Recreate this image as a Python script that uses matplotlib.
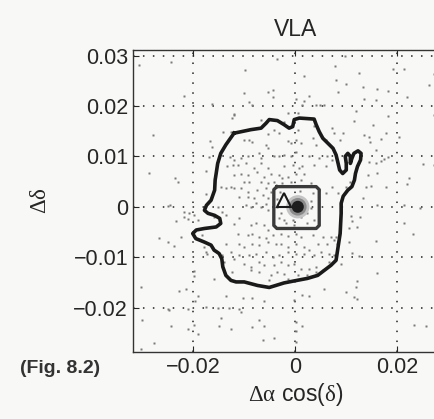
import numpy as np
import matplotlib
matplotlib.use('Agg')
import matplotlib.pyplot as plt

plt.rcParams['font.family'] = ['Liberation Sans', 'DejaVu Sans']
plt.rcParams['mathtext.fontset'] = 'custom'
plt.rcParams['mathtext.rm'] = 'Liberation Serif'
plt.rcParams['mathtext.it'] = 'Liberation Serif'

# scattered source positions (offsets in deg)
pts_upper_left = [(-0.0306, 0.0281), (-0.0244, 0.0288), (-0.0218, 0.0220), (-0.0164, 0.0204),
                  (-0.0120, 0.0184), (-0.0123, 0.0176), (-0.0278, 0.0143), (-0.0142, 0.0148),
                  (-0.0126, 0.0149), (-0.0167, 0.0131), (-0.0164, 0.0118), (-0.0169, 0.0098),
                  (-0.0127, 0.0098), (-0.0120, 0.0093), (-0.0134, 0.0081), (-0.0122, 0.0083),
                  (-0.0286, 0.0068), (-0.0236, 0.0058), (-0.0229, 0.0049), (-0.0175, 0.0071),
                  (-0.0146, 0.0040), (-0.0136, 0.0037), (-0.0126, 0.0039), (-0.0175, 0.0025),
                  (-0.0120, 0.0064)]
pts_upper_mid = [(-0.0036, 0.0294), (-0.0098, 0.0272), (0.0018, 0.0259), (-0.0100, 0.0226),
                 (-0.0054, 0.0227), (-0.0044, 0.0232), (-0.0044, 0.0217), (0.0001, 0.0214),
                 (0.0027, 0.0219), (-0.0090, 0.0207), (-0.0084, 0.0202), (0.0018, 0.0209),
                 (0.0014, 0.0202), (0.0041, 0.0202), (0.0049, 0.0202), (0.0057, 0.0202),
                 (-0.0015, 0.0186), (0.0005, 0.0187), (-0.0120, 0.0182), (-0.0067, 0.0173),
                 (-0.0022, 0.0169), (-0.0012, 0.0159), (-0.0041, 0.0153), (-0.0031, 0.0147),
                 (0.0005, 0.0153), (0.0037, 0.0160), (0.0073, 0.0156), (0.0076, 0.0146),
                 (-0.0100, 0.0133), (-0.0090, 0.0133), (-0.0084, 0.0129), (-0.0054, 0.0145),
                 (-0.0057, 0.0123), (-0.0054, 0.0116), (-0.0015, 0.0131), (-0.0008, 0.0127),
                 (0.0001, 0.0133), (0.0011, 0.0126), (0.0034, 0.0136), (0.0041, 0.0123),
                 (0.0060, 0.0133), (-0.0106, 0.0096), (-0.0093, 0.0100), (-0.0071, 0.0106),
                 (-0.0067, 0.0096), (-0.0041, 0.0100), (-0.0031, 0.0100), (-0.0022, 0.0103),
                 (-0.0008, 0.0100), (0.0001, 0.0109), (0.0027, 0.0100), (0.0047, 0.0096),
                 (0.0063, 0.0100), (-0.0113, 0.0083), (-0.0097, 0.0086), (-0.0067, 0.0086),
                 (-0.0080, 0.0076), (-0.0054, 0.0076), (-0.0022, 0.0080), (-0.0005, 0.0083),
                 (0.0008, 0.0076), (0.0014, 0.0080), (0.0018, 0.0066), (0.0037, 0.0083),
                 (0.0060, 0.0080), (0.0073, 0.0093), (-0.0106, 0.0066), (-0.0093, 0.0063),
                 (-0.0074, 0.0070), (-0.0061, 0.0060), (-0.0048, 0.0066), (-0.0031, 0.0063),
                 (-0.0025, 0.0057), (-0.0015, 0.0060), (0.0001, 0.0066), (-0.0100, 0.0050),
                 (-0.0090, 0.0050), (-0.0067, 0.0050), (-0.0054, 0.0048), (-0.0041, 0.0050),
                 (-0.0025, 0.0047), (-0.0008, 0.0050), (0.0011, 0.0053), (0.0031, 0.0047),
                 (-0.0120, 0.0037), (-0.0106, 0.0037), (-0.0093, 0.0030), (-0.0074, 0.0033),
                 (-0.0057, 0.0037), (-0.0048, 0.0030), (-0.0110, 0.0020), (-0.0093, 0.0020),
                 (-0.0080, 0.0017), (-0.0064, 0.0023), (-0.0054, 0.0017), (0.0047, 0.0033),
                 (0.0060, 0.0027), (0.0073, 0.0040)]
pts_upper_right = [(0.0097, 0.0299), (0.0078, 0.0279), (0.0125, 0.0265), (0.0191, 0.0273),
                   (0.0214, 0.0274), (0.0272, 0.0264), (0.0080, 0.0252), (0.0099, 0.0244),
                   (0.0132, 0.0238), (0.0161, 0.0234), (0.0084, 0.0228), (0.0181, 0.0230),
                   (0.0263, 0.0242), (0.0135, 0.0214), (0.0158, 0.0211), (0.0220, 0.0217),
                   (0.0119, 0.0190), (0.0181, 0.0181), (0.0272, 0.0182), (0.0116, 0.0171),
                   (0.0152, 0.0163), (0.0178, 0.0147), (0.0093, 0.0146), (0.0135, 0.0143),
                   (0.0145, 0.0138), (0.0147, 0.0129), (0.0168, 0.0134), (0.0088, 0.0133),
                   (0.0204, 0.0139), (0.0158, 0.0113), (0.0145, 0.0088), (0.0158, 0.0086),
                   (0.0168, 0.0090), (0.0174, 0.0094), (0.0181, 0.0098), (0.0250, 0.0085),
                   (0.0272, 0.0083), (0.0142, 0.0063), (0.0161, 0.0068), (0.0223, 0.0058),
                   (0.0220, 0.0045), (0.0178, 0.0040), (0.0139, 0.0039), (0.0148, 0.0041),
                   (0.0108, 0.0050), (0.0099, 0.0039), (0.0132, 0.0017), (0.0084, 0.0028)]
pts_lower_left = [(-0.0250, 0.0002), (-0.0245, 0.0003), (-0.0218, -0.0010), (-0.0208, -0.0012),
                  (-0.0219, -0.0021), (-0.0211, -0.0025), (-0.0234, -0.0028), (-0.0198, -0.0017),
                  (-0.0152, 0.0000), (-0.0143, -0.0010), (-0.0136, -0.0017), (-0.0159, -0.0020),
                  (-0.0121, -0.0034), (-0.0191, -0.0026), (-0.0267, -0.0062), (-0.0250, -0.0070),
                  (-0.0237, -0.0078), (-0.0224, -0.0060), (-0.0182, -0.0056), (-0.0178, -0.0080),
                  (-0.0175, -0.0090), (-0.0172, -0.0093), (-0.0136, -0.0073), (-0.0126, -0.0090),
                  (-0.0143, -0.0096), (-0.0120, -0.0103), (-0.0139, -0.0109), (-0.0198, -0.0127),
                  (-0.0199, -0.0138), (-0.0159, -0.0143), (-0.0123, -0.0129), (-0.0302, -0.0160),
                  (-0.0227, -0.0167), (-0.0214, -0.0164), (-0.0191, -0.0176), (-0.0197, -0.0186),
                  (-0.0136, -0.0176), (-0.0250, -0.0202), (-0.0247, -0.0204), (-0.0211, -0.0202),
                  (-0.0175, -0.0198), (-0.0152, -0.0200), (-0.0129, -0.0200), (-0.0301, -0.0225),
                  (-0.0244, -0.0237), (-0.0211, -0.0242), (-0.0198, -0.0235), (-0.0191, -0.0252),
                  (-0.0146, -0.0220), (-0.0149, -0.0237), (-0.0126, -0.0242), (-0.0276, -0.0271),
                  (-0.0302, -0.0282)]
pts_lower_mid = [(-0.0097, 0.0003), (-0.0087, 0.0000), (-0.0077, 0.0007), (-0.0067, 0.0000),
                 (-0.0057, 0.0005), (-0.0054, -0.0007), (-0.0110, -0.0023), (-0.0087, -0.0036),
                 (-0.0077, -0.0033), (-0.0061, -0.0036), (-0.0054, -0.0046), (-0.0113, -0.0053),
                 (-0.0093, -0.0056), (-0.0084, -0.0053), (-0.0071, -0.0060), (-0.0057, -0.0061),
                 (-0.0044, -0.0056), (-0.0028, -0.0053), (-0.0015, -0.0058), (0.0001, -0.0053),
                 (0.0011, -0.0060), (0.0034, -0.0056), (0.0054, -0.0060), (0.0070, -0.0060),
                 (-0.0110, -0.0073), (-0.0100, -0.0080), (-0.0084, -0.0073), (-0.0071, -0.0076),
                 (-0.0054, -0.0070), (-0.0038, -0.0073), (-0.0028, -0.0073), (-0.0015, -0.0080),
                 (0.0001, -0.0073), (0.0018, -0.0080), (0.0027, -0.0086), (0.0044, -0.0073),
                 (0.0063, -0.0073), (0.0076, -0.0066), (-0.0110, -0.0096), (-0.0090, -0.0096),
                 (-0.0077, -0.0093), (-0.0057, -0.0090), (-0.0044, -0.0100), (-0.0031, -0.0096),
                 (-0.0015, -0.0090), (0.0001, -0.0093), (0.0018, -0.0093), (0.0037, -0.0096),
                 (0.0050, -0.0090), (0.0067, -0.0093), (0.0076, -0.0096), (-0.0100, -0.0113),
                 (-0.0087, -0.0119), (-0.0071, -0.0109), (-0.0061, -0.0116), (-0.0041, -0.0116),
                 (-0.0028, -0.0109), (-0.0015, -0.0116), (-0.0002, -0.0113), (0.0011, -0.0123),
                 (0.0027, -0.0123), (0.0041, -0.0119), (0.0054, -0.0126), (0.0067, -0.0109),
                 (-0.0087, -0.0126), (-0.0071, -0.0129), (-0.0048, -0.0136), (-0.0035, -0.0129),
                 (-0.0022, -0.0134), (-0.0051, -0.0146), (-0.0015, -0.0143), (0.0005, -0.0136),
                 (0.0024, -0.0136), (0.0041, -0.0129), (-0.0103, -0.0180), (-0.0084, -0.0180),
                 (-0.0061, -0.0186), (-0.0002, -0.0185), (0.0014, -0.0174), (0.0027, -0.0177),
                 (0.0057, -0.0164), (-0.0110, -0.0202), (-0.0107, -0.0209), (-0.0071, -0.0224),
                 (-0.0084, -0.0239), (-0.0061, -0.0237), (0.0001, -0.0229), (0.0001, -0.0246),
                 (0.0014, -0.0237), (-0.0041, -0.0260), (-0.0064, -0.0265), (0.0001, -0.0269)]
pts_in_box = [(-0.0035, 0.0000), (-0.0028, -0.0013), (-0.0031, -0.0023), (-0.0018, -0.0033),
              (-0.0005, -0.0026), (0.0011, -0.0020), (0.0024, -0.0013), (0.0031, -0.0003),
              (0.0037, -0.0026), (0.0024, -0.0033), (-0.0002, -0.0036), (-0.0022, -0.0026),
              (0.0018, 0.0000), (-0.0030, 0.0030), (0.0035, 0.0028), (0.0030, 0.0012),
              (-0.0036, 0.0015), (0.0010, 0.0032)]
pts_lower_right = [(0.0161, 0.0003), (0.0214, 0.0003), (0.0245, -0.0003), (0.0109, -0.0019),
                   (0.0127, -0.0020), (0.0112, -0.0028), (0.0106, -0.0043), (0.0122, -0.0040),
                   (0.0214, -0.0033), (0.0230, -0.0053), (0.0158, -0.0068), (0.0106, -0.0070),
                   (0.0080, -0.0060), (0.0082, -0.0074), (0.0112, -0.0092), (0.0125, -0.0098),
                   (0.0090, -0.0113), (0.0161, -0.0131), (0.0122, -0.0147), (0.0119, -0.0159),
                   (0.0099, -0.0169), (0.0116, -0.0178), (0.0121, -0.0182), (0.0233, -0.0234),
                   (0.0256, -0.0237)]

# outer contour of the VLA error region
contour_x = [-0.0120, -0.0087, -0.0067, -0.0057, -0.0051, -0.0035, -0.0022, -0.0012, -0.0005,
             -0.0002, 0.0008, 0.0037, 0.0041, 0.0047, 0.0054, 0.0064, 0.0074, 0.0080, 0.0084,
             0.0087, 0.0093, 0.0100, 0.0100, 0.0098, 0.0103, 0.0108, 0.0108, 0.0111, 0.0115,
             0.0123, 0.0129, 0.0128, 0.0122, 0.0118, 0.0116, 0.0111, 0.0103, 0.0094, 0.0090,
             0.0090, 0.0088, 0.0083, 0.0080, 0.0070, 0.0057, 0.0044, 0.0024, -0.0002, -0.0022,
             -0.0038, -0.0051, -0.0074, -0.0100, -0.0116, -0.0126, -0.0136, -0.0142, -0.0144,
             -0.0149, -0.0153, -0.0159, -0.0165, -0.0178, -0.0195, -0.0201, -0.0194, -0.0178,
             -0.0155, -0.0146, -0.0148, -0.0158, -0.0171, -0.0178, -0.0174, -0.0165, -0.0158,
             -0.0157, -0.0155, -0.0152, -0.0146, -0.0136, -0.0120]
contour_y = [0.0146, 0.0153, 0.0156, 0.0166, 0.0173, 0.0171, 0.0163, 0.0156, 0.0159, 0.0173,
             0.0176, 0.0174, 0.0163, 0.0149, 0.0136, 0.0126, 0.0116, 0.0103, 0.0086, 0.0073,
             0.0066, 0.0073, 0.0086, 0.0100, 0.0106, 0.0100, 0.0086, 0.0096, 0.0106, 0.0111,
             0.0106, 0.0093, 0.0080, 0.0066, 0.0053, 0.0040, 0.0033, 0.0021, 0.0007, -0.0013,
             -0.0053, -0.0086, -0.0106, -0.0116, -0.0126, -0.0136, -0.0142, -0.0147, -0.0151,
             -0.0156, -0.0160, -0.0156, -0.0149, -0.0149, -0.0146, -0.0136, -0.0119, -0.0103,
             -0.0093, -0.0090, -0.0086, -0.0076, -0.0070, -0.0063, -0.0053, -0.0046, -0.0043,
             -0.0040, -0.0033, -0.0023, -0.0017, -0.0013, -0.0007, 0.0003, 0.0013, 0.0033,
             0.0053, 0.0066, 0.0086, 0.0106, 0.0123, 0.0146]

# inner (box-shaped) contour
box_x = [-0.0036, 0.0041, 0.0047, 0.0047, 0.0041, -0.0036, -0.0042, -0.0042, -0.0036]
box_y = [0.0040, 0.0040, 0.0034, -0.0037, -0.0043, -0.0043, -0.0037, 0.0034, 0.0040]

# peak of the density and the reference position
peak_x = [0.0005]
peak_y = [0.0]
ref_x = [-0.0022]
ref_y = [0.0013]

xticks = [-0.02, 0, 0.02]
xticklabels = ['\u22120.02', '0', '0.02']
yticks = [-0.02, -0.01, 0, 0.01, 0.02, 0.03]
yticklabels = ['\u22120.02', '\u22120.01', '0', '0.01', '0.02', '0.03']

pts = np.array(pts_upper_left + pts_upper_mid + pts_upper_right + pts_lower_left
               + pts_lower_mid + pts_in_box + pts_lower_right)

bg = '#f8f8f6'
txt = '#262626'
fig = plt.figure(figsize=(4.35, 4.19), dpi=100, facecolor=bg)
ax = fig.add_axes([133 / 435, 67 / 419, 324.5 / 435, 302 / 419], facecolor=bg)

ax.plot(pts[:, 0], pts[:, 1], 's', ms=2.1, color='#7a7a7a', mec='none', zorder=2)

# dense core around the peak
ax.scatter(peak_x, peak_y, s=280, color='#c4c4c4', edgecolors='none', zorder=3)
ax.scatter(peak_x, peak_y, s=160, color='#8a8a8a', edgecolors='none', zorder=3)
ax.scatter(peak_x, peak_y, s=75, color='#1e1e1e', edgecolors='none', zorder=4)

ax.plot(box_x, box_y, color='#3a3a3a', lw=2.4, solid_joinstyle='round', zorder=5)
ax.plot(contour_x + contour_x[:1], contour_y + contour_y[:1], color='#1a1a1a', lw=2.6,
        solid_joinstyle='round', zorder=5)
ax.plot(ref_x, ref_y, '^', ms=10.5, mfc='none', mec='#1a1a1a', mew=1.5, zorder=6)

ax.set_xlim(-0.0318, 0.0318)
ax.set_ylim(-0.0288, 0.0311)
ax.set_xticks(xticks)
ax.set_xticklabels(xticklabels)
ax.set_yticks(yticks)
ax.set_yticklabels(yticklabels)
ax.tick_params(direction='in', length=4, width=0.8, top=True, right=True,
               labelsize=15.5, colors=txt, pad=3.5)
ax.grid(True, color='#222222', linestyle=(0, (1, 5.5)), lw=1.1)
for s in ax.spines.values():
    s.set_linewidth(1.0)
    s.set_color('#333333')

ax.set_title('VLA', fontsize=16.5, color=txt, pad=10)
ax.set_xlabel(r'$\Delta\alpha$ cos($\delta$)', fontsize=16.5, color=txt, labelpad=2)
ax.set_ylabel(r'$\Delta\delta$', fontsize=16.5, color=txt, labelpad=16)
fig.text(20 / 435, 1 - 368 / 419, '(Fig. 8.2)', fontsize=14, fontweight='bold',
         color='#333333', va='center', ha='left')

fig.savefig('out.png', dpi=100, facecolor=bg)
